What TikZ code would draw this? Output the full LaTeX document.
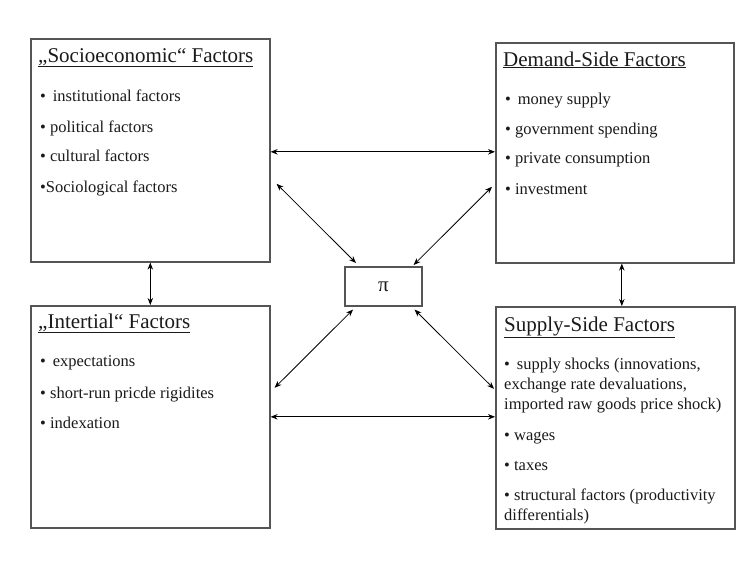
\documentclass[tikz,border=0pt]{standalone}
\usepackage{fontspec}
\setmainfont{Liberation Serif}
\usetikzlibrary{arrows.meta}
\definecolor{boxgray}{HTML}{555555}
\definecolor{txt}{HTML}{1A1A1A}
\begin{document}
\begin{tikzpicture}[x=1pt,y=-1pt,
  factorbox/.style={draw=boxgray,line width=1.6pt,fill=white,inner sep=0pt,anchor=north west},
  ttl/.style={anchor=base west,inner sep=0pt,text=txt,font=\fontsize{21}{25}\selectfont},
  itm/.style={anchor=base west,inner sep=0pt,text=txt,font=\fontsize{16.5}{20}\selectfont},
  arr/.style={draw=black,line width=0.8pt,{Stealth[length=7pt,width=5.5pt]}-{Stealth[length=7pt,width=5.5pt]}}]
\useasboundingbox (0,0) rectangle (746,565);
\fill[white] (0,0) rectangle (746,565);
% boxes
\node[factorbox,minimum width=239pt,minimum height=223pt] (soc) at (30,38) {};
\node[factorbox,minimum width=238pt,minimum height=220pt] (dem) at (495,42) {};
\node[factorbox,minimum width=239pt,minimum height=222pt] (int) at (30,305) {};
\node[factorbox,minimum width=239pt,minimum height=222pt] (sup) at (495,306) {};
\node[factorbox,minimum width=77pt,minimum height=39pt] (pi) at (344,266) {};
\node[inner sep=0pt,text=txt,font=\fontsize{21}{25}\selectfont] (pitxt) at (pi.center) {π};
% socioeconomic
\node[ttl] (socT) at (38,62) {\underline{„Socioeconomic“ Factors}};
\node[itm] (soc1) at (40,101) {•\, institutional factors};
\node[itm] (soc2) at (40,132) {• political factors};
\node[itm] (soc3) at (40,161) {• cultural factors};
\node[itm] (soc4) at (40,192) {•Sociological factors};
% demand
\node[ttl] (demT) at (503,66) {\underline{Demand-Side Factors}};
\node[itm] (dem1) at (505,104) {•\, money supply};
\node[itm] (dem2) at (505,134) {• government spending};
\node[itm] (dem3) at (505,163) {• private consumption};
\node[itm] (dem4) at (505,194) {• investment};
% intertial
\node[ttl] (intT) at (38,328) {\underline{„Intertial“ Factors}};
\node[itm] (int1) at (40,366) {•\, expectations};
\node[itm] (int2) at (40,398) {• short-run pricde rigidites};
\node[itm] (int3) at (40,428) {• indexation};
% supply
\node[ttl] (supT) at (504,331) {\underline{Supply-Side Factors}};
\node[itm] (sup1) at (504,369) {•\, supply shocks (innovations,};
\node[itm] (sup1b) at (504,389) {exchange rate devaluations,};
\node[itm] (sup1c) at (504,409) {imported raw goods price shock)};
\node[itm] (sup2) at (504,440) {• wages};
\node[itm] (sup3) at (504,470) {• taxes};
\node[itm] (sup4) at (504,500) {• structural factors (productivity};
\node[itm] (sup4b) at (504,520) {differentials)};
% connectors
\draw[arr] ([yshift=-1.5pt]soc.east) -- ([yshift=-1.5pt]soc.east -| dem.west);
\draw[arr] (int.east) -- (int.east -| sup.west);
\draw[arr] (soc.south) -- (soc.south |- int.north);
\draw[arr] ([xshift=7pt]dem.south) -- ([xshift=7pt]dem.south |- sup.north);
\draw[arr] ([shift={(6,33.5)}]soc.east) -- ([shift={(12,-3)}]pi.north west);
\draw[arr] ([shift={(-3,34)}]dem.west) -- ([shift={(-9,-1)}]pi.north east);
\draw[arr] ([shift={(9,3)}]pi.south west) -- ([shift={(4,-29)}]int.east);
\draw[arr] ([shift={(-8,3)}]pi.south east) -- ([shift={(-1,-29)}]sup.west);
\end{tikzpicture}
\end{document}
